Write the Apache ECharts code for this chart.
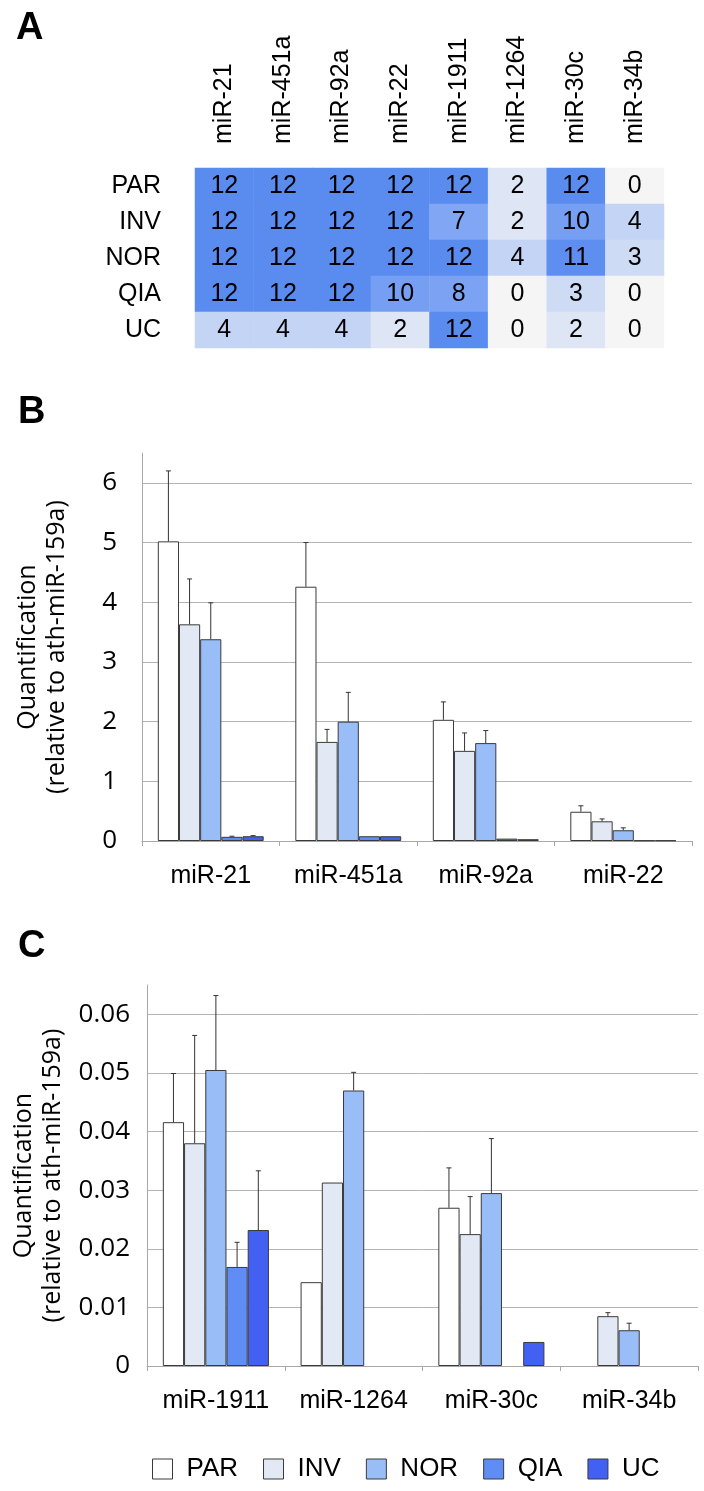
<!DOCTYPE html>
<html><head><meta charset="utf-8">
<script src="https://cdn.jsdelivr.net/npm/echarts@6/dist/echarts.min.js"></script>
<style>html,body{margin:0;padding:0;background:#fff}#c{width:704px;height:1491px}</style>
</head><body><div id="c"></div>
<script>
// ---- Panel A data ----
const heatCols = ['miR-21','miR-451a','miR-92a','miR-22','miR-1911','miR-1264','miR-30c','miR-34b'];
const heatRows = ['PAR','INV','NOR','QIA','UC'];
const heatPAR = [12,12,12,12,12,2,12,0];
const heatINV = [12,12,12,12,7,2,10,4];
const heatNOR = [12,12,12,12,12,4,11,3];
const heatQIA = [12,12,12,10,8,0,3,0];
const heatUC  = [4,4,4,2,12,0,2,0];

// ---- Panel B data ----
const catsB = ['miR-21','miR-451a','miR-92a','miR-22'];
const bPAR = [5.02,4.26,2.03,0.49];  const bPARerr = [1.18,0.74,0.30,0.10];
const bINV = [3.63,1.66,1.51,0.33];  const bINVerr = [0.76,0.21,0.30,0.04];
const bNOR = [3.38,2.00,1.64,0.18];  const bNORerr = [0.61,0.49,0.21,0.04];
const bQIA = [0.07,0.08,0.04,0.01];  const bQIAerr = [0.01,0,0,0];
const bUC  = [0.08,0.08,0.03,0.01];  const bUCerr  = [0.01,0,0,0];

// ---- Panel C data ----
const catsC = ['miR-1911','miR-1264','miR-30c','miR-34b'];
const cPAR = [0.0416,0.0143,0.0270,0];      const cPARerr = [0.0083,0,0.0068,0];
const cINV = [0.0380,0.0313,0.0225,0.0085]; const cINVerr = [0.0184,0,0.0064,0.0006];
const cNOR = [0.0505,0.0470,0.0295,0.0061]; const cNORerr = [0.0127,0.0031,0.0093,0.0012];
const cQIA = [0.0169,0,0,0];                const cQIAerr = [0.0042,0,0,0];
const cUC  = [0.0232,0,0.0041,0];           const cUCerr  = [0.0101,0,0,0];

const groups = ['PAR','INV','NOR','QIA','UC'];
const colors = ['#ffffff','#e2e9f5','#99bdf6','#5f8df5','#4261f3'];
const yAxisName = 'Quantification\n(relative to ath-miR-159a)';
// heat colour ramp, one stop per count 0..12
const heatRamp = ['#f5f5f5','#e9eef6','#dee6f5','#cddbf5','#c3d4f5','#aec6f4','#98b7f4',
                  '#80a6f4','#7ca3f3','#7aa1f3','#769ef2','#5e8ef0','#5a8cf0'];

const CAT_GAP = 0.23;
const heatRowsData = [heatPAR,heatINV,heatNOR,heatQIA,heatUC];
const heatData = [];
heatRowsData.forEach((row, r) => row.forEach((v, c) => heatData.push([c, r, v])));

const chart = echarts.init(document.getElementById('c'), null, {renderer:'canvas'});
const ARIAL = 'Liberation Sans, Arial, sans-serif';
const OPEN = 'Open Sans, sans-serif';

function barSeries(name, vals, gi, color) {
  return {
    type:'bar', name, xAxisIndex: gi, yAxisIndex: gi,
    data: vals.map(v => v === 0 ? {value:0, itemStyle:{borderWidth:0}} : v),
    barGap: '0%', barCategoryGap: (CAT_GAP*100)+'%',
    itemStyle:{color, borderColor:'#3a3a3a', borderWidth:1},
    emphasis:{disabled:true}, z:2
  };
}
function errSeries(vals, errs, gi, si) {
  return {
    type:'custom', xAxisIndex: gi, yAxisIndex: gi, z:3, silent:true,
    data: vals.map((v,i)=>[i, v, errs[i]]),
    renderItem: function(params, api){
      const c = api.value(0), v = api.value(1), e = api.value(2);
      if (!e) return null;
      const band = api.size([1,0])[0];
      const bw = band*(1-CAT_GAP)/5;
      const p0 = api.coord([c, v]);
      const p1 = api.coord([c, v+e]);
      const x = p0[0] + (si-2)*bw;
      const st = {stroke:'#333', lineWidth:1};
      return {type:'group', children:[
        {type:'line', shape:{x1:x, y1:p0[1], x2:x, y2:p1[1]}, style:st},
        {type:'line', shape:{x1:x-2.5, y1:p1[1], x2:x+2.5, y2:p1[1]}, style:st}
      ]};
    }
  };
}

const series = [];
series.push({
  type:'heatmap', xAxisIndex:0, yAxisIndex:0, data: heatData,
  label:{show:true, fontSize:25, fontFamily:ARIAL, color:'#000'},
  itemStyle:{borderWidth:0}, emphasis:{disabled:true}
});
const bVals = [bPAR,bINV,bNOR,bQIA,bUC], bErrs = [bPARerr,bINVerr,bNORerr,bQIAerr,bUCerr];
const cVals = [cPAR,cINV,cNOR,cQIA,cUC], cErrs = [cPARerr,cINVerr,cNORerr,cQIAerr,cUCerr];
groups.forEach((g,i)=>series.push(barSeries(g, bVals[i], 1, colors[i])));
groups.forEach((g,i)=>series.push(barSeries(g, cVals[i], 2, colors[i])));
groups.forEach((g,i)=>series.push(errSeries(bVals[i], bErrs[i], 1, i)));
groups.forEach((g,i)=>series.push(errSeries(cVals[i], cErrs[i], 2, i)));

const gridLineColors = ['#b4b4b4','#b4b4b4','#b4b4b4','#b4b4b4','#b4b4b4','#b4b4b4','#b4b4b4','rgba(0,0,0,0)'];

function valueAxis(gi, max, interval, margin, fmt) {
  return {
    type:'value', gridIndex: gi, min:0, max, interval,
    axisLine:{show:true, lineStyle:{color:'#a8a8a8', width:1}},
    axisTick:{show:false},
    axisLabel:{fontSize:26, fontFamily:OPEN, color:'#000', margin, showMaxLabel:false, formatter: fmt},
    splitLine:{show:true, lineStyle:{color: gridLineColors, width:1}},
    name: yAxisName, nameLocation:'middle', nameRotate:90, nameGap: 0,
    nameTextStyle:{fontSize:25, fontFamily:OPEN, color:'#000', lineHeight:29}
  };
}
function catAxis(gi, data) {
  return {
    type:'category', gridIndex: gi, data,
    axisLine:{show:true, lineStyle:{color:'#a8a8a8', width:1}},
    axisTick:{show:true, length:5, lineStyle:{color:'#a8a8a8'}},
    axisLabel:{fontSize:25, fontFamily:ARIAL, color:'#000', margin:23, interval:0}
  };
}

const yB = valueAxis(1, 6.5, 1, 25, v => String(v));
yB.nameGap = 71;
const yC = valueAxis(2, 0.065, 0.01, 17, v => v === 0 ? '0' : v.toFixed(2));
yC.nameGap = 76;

const option = {
  backgroundColor:'#fff',
  animation:false,
  grid:[
    {left:195, width:469, top:168, height:180, outerBoundsMode:'none'},
    {left:142, right:12, top:453, height:388, outerBoundsMode:'none'},
    {left:147, right:6, top:985, height:381, outerBoundsMode:'none'}
  ],
  xAxis:[
    {type:'category', gridIndex:0, data: heatCols, position:'top',
     axisLine:{show:false}, axisTick:{show:false}, splitArea:{show:false},
     axisLabel:{rotate:-90, fontSize:25, fontFamily:ARIAL, color:'#000', margin:24, interval:0}},
    catAxis(1, catsB),
    catAxis(2, catsC)
  ],
  yAxis:[
    {type:'category', gridIndex:0, data: heatRows, inverse:true,
     axisLine:{show:false}, axisTick:{show:false}, splitArea:{show:false},
     axisLabel:{fontSize:25, fontFamily:ARIAL, color:'#000', margin:34}},
    yB, yC
  ],
  visualMap:{show:false, type:'continuous', min:0, max:12, seriesIndex:0, dimension:2,
    inRange:{color: heatRamp}},
  legend:{
    data: groups, left:147, top:1451, itemWidth:20, itemHeight:20, itemGap:25,
    icon:'rect', selectedMode:false,
    textStyle:{fontSize:26, fontFamily:ARIAL, color:'#000', padding:[0,0,0,9]},
    itemStyle:{borderColor:'#3a3a3a', borderWidth:1}
  },
  graphic:[
    {type:'text', left:16, top:10, style:{text:'A', font:'bold 38px Liberation Sans, Arial, sans-serif', fill:'#000'}},
    {type:'text', left:18, top:394, style:{text:'B', font:'bold 38px Liberation Sans, Arial, sans-serif', fill:'#000'}},
    {type:'text', left:18, top:928, style:{text:'C', font:'bold 38px Liberation Sans, Arial, sans-serif', fill:'#000'}}
  ],
  series
};
chart.setOption(option);
</script>
</body></html>
